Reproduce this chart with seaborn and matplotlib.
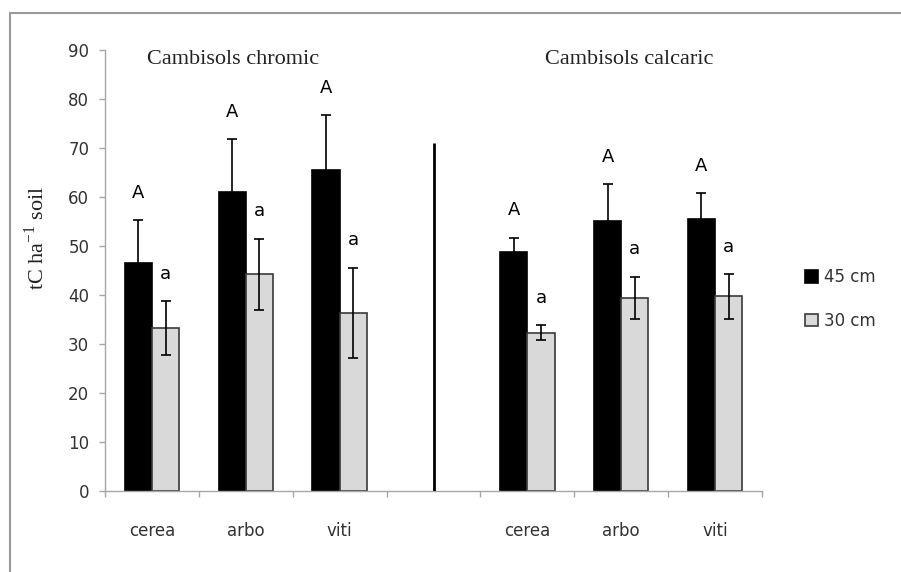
import matplotlib
matplotlib.use("Agg")
import numpy as np
import pandas as pd
import seaborn as sns
import matplotlib.pyplot as plt
from matplotlib.patches import Patch
from matplotlib.lines import Line2D

# ---------------- data ----------------
land_uses = ["cerea", "arbo", "viti"]
soils = ["Cambisols chromic", "Cambisols calcaric"]
depths = ["45 cm", "30 cm"]

chromic_45 = [46.5, 61.0, 65.5]
chromic_45_err = [8.8, 10.8, 11.2]
chromic_30 = [33.2, 44.2, 36.4]
chromic_30_err = [5.5, 7.3, 9.2]

calcaric_45 = [48.8, 55.1, 55.5]
calcaric_45_err = [2.9, 7.5, 5.3]
calcaric_30 = [32.3, 39.4, 39.7]
calcaric_30_err = [1.5, 4.3, 4.5]

letters_45 = ["A", "A", "A", "A", "A", "A"]
letters_30 = ["a", "a", "a", "a", "a", "a"]

divider_height = 71

# ---------------- build table ----------------
slot_order = [f"chromic_{u}" for u in land_uses] + ["gap"] + [f"calcaric_{u}" for u in land_uses]
slot_labels = land_uses + [""] + land_uses

rows = []
for prefix, v45, e45, v30, e30 in [
    ("chromic", chromic_45, chromic_45_err, chromic_30, chromic_30_err),
    ("calcaric", calcaric_45, calcaric_45_err, calcaric_30, calcaric_30_err),
]:
    for u, a, ea, b, eb in zip(land_uses, v45, e45, v30, e30):
        rows.append({"slot": f"{prefix}_{u}", "depth": depths[0], "value": a, "err": ea})
        rows.append({"slot": f"{prefix}_{u}", "depth": depths[1], "value": b, "err": eb})
df = pd.DataFrame(rows)

# ---------------- plot ----------------
sns.set_style("white")
plt.rcParams["font.family"] = ["DejaVu Sans"]

fig = plt.figure(figsize=(9.01, 5.72), dpi=100)
ax = fig.add_axes([105 / 901, 1 - 491 / 572, 657 / 901, 441 / 572])

colors = {"45 cm": "black", "30 cm": "#d9d9d9"}
edges = {"45 cm": "black", "30 cm": "#3a3a3a"}

sns.barplot(data=df, x="slot", y="value", hue="depth", order=slot_order,
            hue_order=depths, palette=colors, width=0.58, errorbar=None,
            saturation=1, legend=False, ax=ax, zorder=2)

letters = {depths[0]: letters_45, depths[1]: letters_30}
for depth, cont in zip(depths, ax.containers):
    sub = df[df["depth"] == depth].set_index("slot").loc[[s for s in slot_order if s != "gap"]]
    bars = sorted(cont.patches, key=lambda p: p.get_x())
    xs = [p.get_x() + p.get_width() / 2 for p in bars]
    hs = [p.get_height() for p in bars]
    for p in bars:
        p.set_edgecolor(edges[depth])
        p.set_linewidth(1.2)
    ax.errorbar(xs, hs, yerr=sub["err"].values, fmt="none", ecolor="black",
                elinewidth=1.2, capsize=3.5, capthick=1.2, zorder=3)
    for x, h, e, t in zip(xs, hs, sub["err"].values, letters[depth]):
        ax.text(x, h + e + 5.6, t, ha="center", va="center", fontsize=13,
                color="black")

# divider between soil types
ax.vlines(slot_order.index("gap"), 0, divider_height, color="black", lw=2, zorder=3)

# soil titles
ax.text(0.86, 88.1, soils[0], ha="center", va="center", fontsize=16,
        family="Liberation Serif", color="#222222")
ax.text(5.08, 88.1, soils[1], ha="center", va="center", fontsize=16,
        family="Liberation Serif", color="#222222")

# axes styling
ax.set_xlim(-0.5, len(slot_order) - 0.5)
ax.set_ylim(0, 90)
ax.set_yticks(np.arange(0, 91, 10))
ax.set_xticks(range(len(slot_order)))
ax.set_xticklabels(slot_labels)
ax.set_xticks(np.arange(-0.5, len(slot_order), 1), minor=True)
ax.tick_params(axis="x", which="major", length=0, pad=22, labelsize=12,
               labelcolor="#333333")
ax.tick_params(axis="x", which="minor", length=4.3, width=1, color="#a6a6a6",
               direction="out", bottom=True)
ax.tick_params(axis="y", which="major", length=4.3, width=1, color="#a6a6a6",
               direction="out", left=True, pad=7, labelsize=12, labelcolor="#333333")
ax.set_xlabel("")
ax.set_ylabel(r"tC ha$^{\mathregular{-1}}$ soil", fontsize=16,
              family="Liberation Serif", color="#222222")
ax.yaxis.set_label_coords(-0.086, 0.574)

for side in ["top", "right"]:
    ax.spines[side].set_visible(False)
for side in ["left", "bottom"]:
    ax.spines[side].set_color("#a6a6a6")
    ax.spines[side].set_linewidth(1)
ax.set_facecolor("white")

# legend
handles = [Patch(facecolor=colors[d], edgecolor=edges[d], linewidth=1.2) for d in depths]
fig.legend(handles, depths, loc="upper left", bbox_to_anchor=(797 / 901, 1 - 260 / 572),
           frameon=False, borderpad=0, handlelength=0.75, handleheight=0.75,
           handletextpad=0.35, labelspacing=1.55, fontsize=12, labelcolor="#333333")

# outer frame (top and left)
fig.add_artist(Line2D([10 / 901, 1], [1 - 13 / 572, 1 - 13 / 572],
                      transform=fig.transFigure, color="#9a9a9a", lw=1.5))
fig.add_artist(Line2D([10 / 901, 10 / 901], [0, 1 - 13 / 572],
                      transform=fig.transFigure, color="#9a9a9a", lw=1.5))

fig.savefig("out.png", dpi=100, facecolor="white")
